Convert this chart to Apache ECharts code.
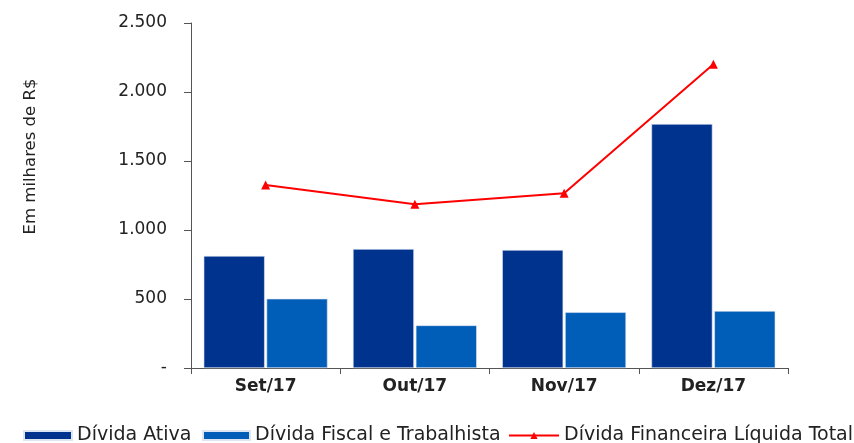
<!DOCTYPE html>
<html>
<head>
<meta charset="utf-8">
<script src="https://cdn.jsdelivr.net/npm/echarts@6/dist/echarts.min.js"></script>
<style>
  html, body { margin: 0; padding: 0; background: #fff; }
  #main { width: 854px; height: 443px; }
</style>
</head>
<body>
<div id="main"></div>
<script>
// dados (em milhares de R$)
var meses = ['Set/17', 'Out/17', 'Nov/17', 'Dez/17'];
var dividaAtiva = [812, 862, 855, 1768];
var dividaFiscal = [502, 309, 404, 413];
var dividaLiquida = [1326, 1186, 1266, 2201];
var yTicks = [0, 500, 1000, 1500, 2000, 2500];
var yTickLabels = ['-', '500', '1.000', '1.500', '2.000', '2.500'];

var myChart = echarts.init(document.getElementById('main'));
var fonte = 'DejaVu Sans, Verdana, sans-serif';

// cada item da legenda na sua posicao
function legenda(nome, esq, larg, icone) {
    var item = { name: nome };
    if (icone) item.icon = icone;
    return {
        left: esq,
        top: 426,
        padding: 0,
        itemWidth: larg,
        itemHeight: 9,
        textStyle: { fontFamily: fonte, fontSize: 19, color: '#222' },
        data: [item]
    };
}

var option = {
    animation: false,
    grid: { left: 191, right: 66, top: 23, bottom: 75 },
    legend: [
        legenda('Dívida Ativa', 23, 48, 'rect'),
        legenda('Dívida Fiscal e Trabalhista', 202, 47, 'rect'),
        legenda('Dívida Financeira Líquida Total', 508, 50)
    ],
    xAxis: {
        type: 'category',
        data: meses,
        axisLine: { lineStyle: { color: '#555', width: 1 } },
        axisTick: { show: true, length: 6, lineStyle: { color: '#555' } },
        axisLabel: { margin: 10, fontFamily: fonte, fontSize: 17, fontWeight: 'bold', color: '#222' }
    },
    yAxis: {
        type: 'value',
        min: 0,
        max: 2500,
        interval: 500,
        name: 'Em milhares de R$',
        nameLocation: 'middle',
        nameGap: 152,
        nameTextStyle: { fontFamily: fonte, fontSize: 16.5, color: '#222', padding: [0, 0, 0, 78] },
        axisLine: { show: true, lineStyle: { color: '#555', width: 1 } },
        axisTick: { show: true, length: 7, lineStyle: { color: '#555' } },
        splitLine: { show: false },
        axisLabel: {
            margin: 24,
            fontFamily: fonte,
            fontSize: 17,
            color: '#222',
            formatter: function (v) {
                var i = yTicks.indexOf(v);
                return i >= 0 ? yTickLabels[i] : '';
            }
        }
    },
    series: [
        {
            name: 'Dívida Ativa',
            type: 'bar',
            data: dividaAtiva,
            barGap: '3%',
            barCategoryGap: '17%',
            itemStyle: { color: '#00338D', borderColor: '#dfe6f3', borderWidth: 0.6 }
        },
        {
            name: 'Dívida Fiscal e Trabalhista',
            type: 'bar',
            data: dividaFiscal,
            itemStyle: { color: '#005EB8', borderColor: '#dfe6f3', borderWidth: 0.6 }
        },
        {
            name: 'Dívida Financeira Líquida Total',
            type: 'line',
            data: dividaLiquida,
            symbol: 'triangle',
            symbolSize: 9,
            lineStyle: { color: '#FF0000', width: 2 },
            itemStyle: { color: '#FF0000' }
        }
    ]
};

myChart.setOption(option);
</script>
</body>
</html>
